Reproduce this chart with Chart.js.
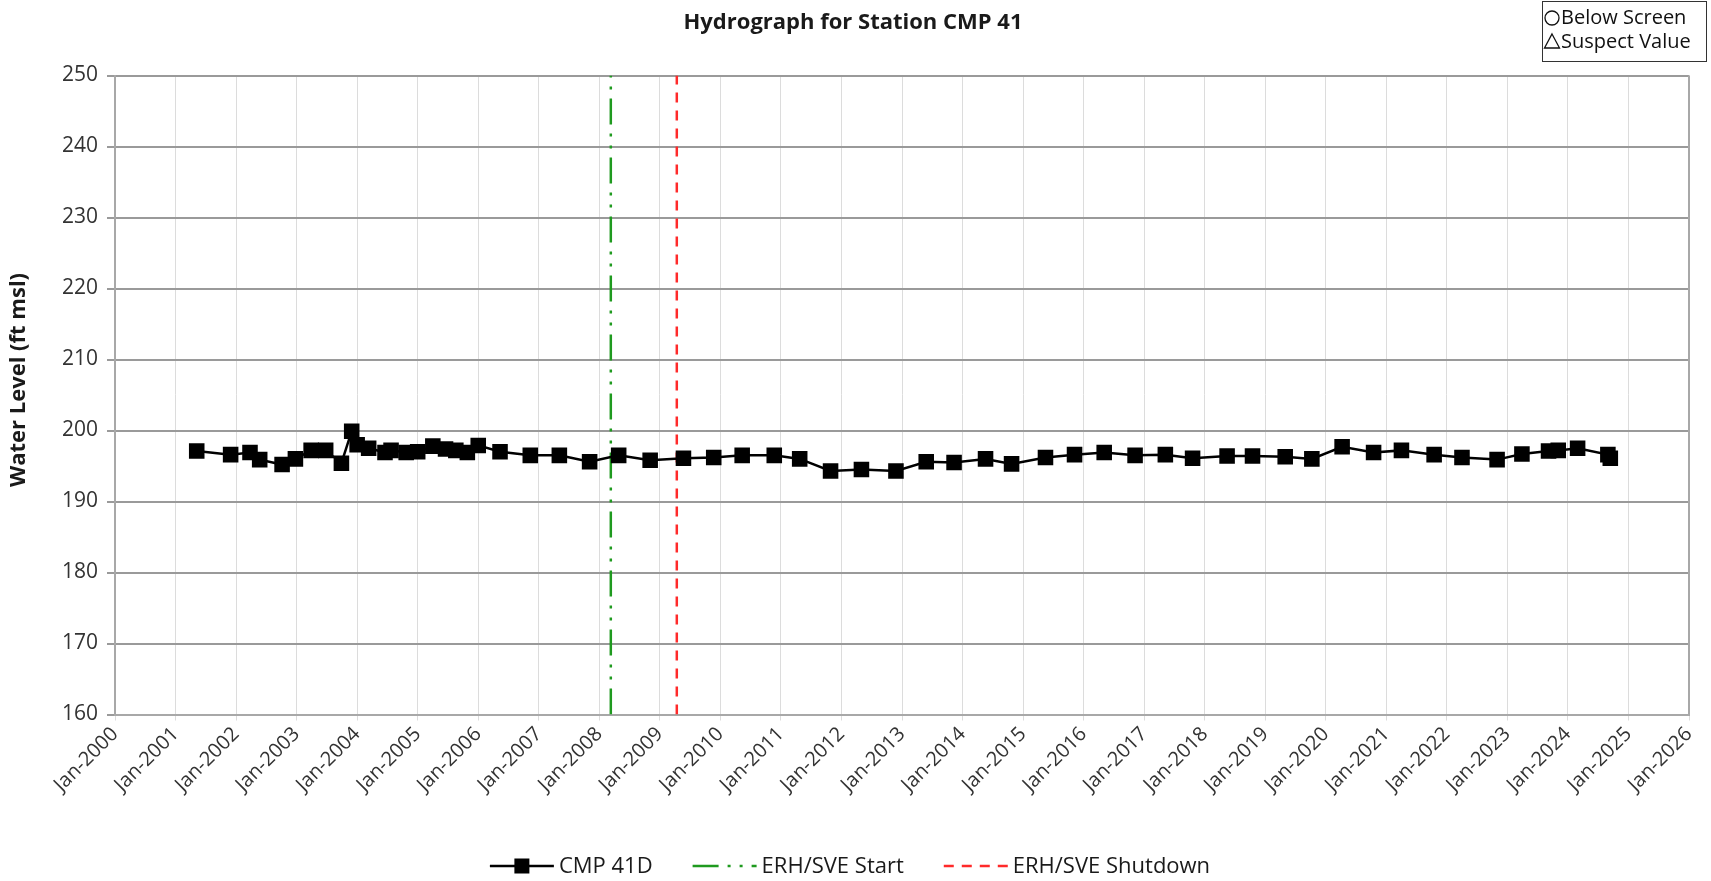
<!DOCTYPE html>
<html>
<head>
<meta charset="utf-8">
<title>Hydrograph for Station CMP 41</title>
<script src="https://cdn.jsdelivr.net/npm/chart.js@4.4.1/dist/chart.umd.min.js"></script>
<style>
  html, body { margin: 0; padding: 0; background: #fff; }
</style>
</head>
<body>
<canvas id="hydro" width="1711" height="881"></canvas>
<script>
// sampling dates as decimal years, water level in ft msl
const sampleYears = [
  2001.35, 2001.91, 2002.23, 2002.39, 2002.76, 2002.98, 2003.24, 2003.48, 2003.74, 2003.91,
  2004.00, 2004.19, 2004.46, 2004.56, 2004.81, 2005.00, 2005.25, 2005.46, 2005.63, 2005.82,
  2006.00, 2006.36, 2006.86, 2007.34, 2007.84, 2008.32, 2008.84, 2009.39, 2009.89, 2010.36,
  2010.89, 2011.31, 2011.82, 2012.33, 2012.90, 2013.40, 2013.86, 2014.38, 2014.81, 2015.37,
  2015.85, 2016.34, 2016.85, 2017.35, 2017.80, 2018.37, 2018.79, 2019.33, 2019.77, 2020.27,
  2020.79, 2021.25, 2021.79, 2022.25, 2022.83, 2023.24, 2023.68, 2023.84, 2024.16, 2024.66,
  2024.70
];
const waterLevels = [
  197.1, 196.6, 196.9, 195.9, 195.2, 196.0, 197.2, 197.2, 195.4, 199.9,
  198.0, 197.5, 196.9, 197.2, 196.9, 197.0, 197.8, 197.4, 197.2, 196.9,
  197.9, 197.0, 196.5, 196.5, 195.6, 196.5, 195.8, 196.1, 196.2, 196.5,
  196.5, 196.0, 194.3, 194.5, 194.3, 195.6, 195.5, 196.0, 195.3, 196.2,
  196.6, 196.9, 196.5, 196.6, 196.1, 196.4, 196.4, 196.3, 196.0, 197.7,
  196.9, 197.2, 196.6, 196.2, 195.9, 196.7, 197.1, 197.2, 197.5, 196.6,
  196.1
];

// remediation events
const erhStartYear = 2008.19;
const erhShutdownYear = 2009.28;

// axis ranges
const yearRange = [2000, 2026];
const levelRange = [160, 250];

const points = sampleYears.map((yr, i) => ({ x: yr, y: waterLevels[i] }));
const eventLine = yr => [{ x: yr, y: levelRange[0] }, { x: yr, y: levelRange[1] }];

Chart.defaults.font.family = '"Open Sans", sans-serif';
Chart.defaults.color = '#333';

// titles, marker key and line legend drawn straight on the canvas
const decorations = {
  id: 'decorations',
  afterDraw(chart) {
    const ctx = chart.ctx;
    const a = chart.chartArea;
    ctx.save();

    // right frame edge
    ctx.strokeStyle = '#a8a8a8';
    ctx.lineWidth = 2;
    ctx.beginPath();
    ctx.moveTo(a.right, a.top);
    ctx.lineTo(a.right, a.bottom);
    ctx.stroke();

    ctx.fillStyle = '#1a1a1a';
    ctx.textBaseline = 'middle';
    ctx.textAlign = 'center';
    ctx.font = 'bold 22px "Open Sans"';
    ctx.fillText('Hydrograph for Station CMP 41', 853, 23);

    ctx.save();
    ctx.translate(19, 380);
    ctx.rotate(-Math.PI / 2);
    ctx.font = 'bold 22px "Open Sans"';
    ctx.fillText('Water Level (ft msl)', 0, 0);
    ctx.restore();

    // marker key
    ctx.strokeStyle = '#333';
    ctx.lineWidth = 1;
    ctx.strokeRect(1542.5, 1.5, 164, 60);
    ctx.lineWidth = 1.3;
    ctx.strokeStyle = '#111';
    ctx.beginPath();
    ctx.arc(1552, 18, 7, 0, Math.PI * 2);
    ctx.stroke();
    ctx.beginPath();
    ctx.moveTo(1552, 34);
    ctx.lineTo(1559.5, 48);
    ctx.lineTo(1544.5, 48);
    ctx.closePath();
    ctx.stroke();
    ctx.textAlign = 'left';
    ctx.font = '20px "Open Sans"';
    ctx.fillStyle = '#111';
    ctx.fillText('Below Screen', 1561, 18);
    ctx.fillText('Suspect Value', 1561, 42);

    // line legend
    const ds = chart.data.datasets;
    const sw = 64, gap = 5, spacing = 40, ly = 866;
    ctx.font = '22px "Open Sans"';
    const widths = ds.map(d => sw + gap + ctx.measureText(d.label).width);
    const total = widths.reduce((s, w) => s + w, 0) + spacing * (ds.length - 1);
    let x = 850 - total / 2;
    ds.forEach((d, i) => {
      ctx.strokeStyle = d.borderColor;
      ctx.lineWidth = d.borderWidth;
      ctx.setLineDash(d.borderDash || []);
      ctx.beginPath();
      ctx.moveTo(x, ly);
      ctx.lineTo(x + sw, ly);
      ctx.stroke();
      ctx.setLineDash([]);
      if (d.pointRadius > 0) {
        ctx.fillStyle = d.pointBackgroundColor;
        ctx.fillRect(x + sw / 2 - 7.5, ly - 7.5, 15, 15);
      }
      ctx.fillStyle = '#1a1a1a';
      ctx.fillText(d.label, x + sw + gap, ly + 1);
      x += widths[i] + spacing;
    });

    ctx.restore();
  }
};

new Chart(document.getElementById('hydro'), {
  type: 'line',
  data: {
    datasets: [
      {
        label: 'CMP 41D',
        data: points,
        borderColor: '#000',
        borderWidth: 2.5,
        pointStyle: 'rect',
        pointRadius: 11,
        pointBackgroundColor: '#000',
        pointBorderColor: '#000',
        pointBorderWidth: 0,
        tension: 0
      },
      {
        label: 'ERH/SVE Start',
        data: eventLine(erhStartYear),
        borderColor: '#1f9a1f',
        borderWidth: 2.5,
        borderDash: [26, 9, 3, 9, 3, 9],
        pointRadius: 0
      },
      {
        label: 'ERH/SVE Shutdown',
        data: eventLine(erhShutdownYear),
        borderColor: '#ff2a2a',
        borderWidth: 2.5,
        borderDash: [10, 8],
        pointRadius: 0
      }
    ]
  },
  options: {
    responsive: false,
    animation: false,
    layout: { padding: { top: 75.5, right: 22, left: 0, bottom: 0 } },
    plugins: {
      legend: { display: false },
      title: { display: false },
      tooltip: { enabled: false }
    },
    scales: {
      x: {
        type: 'linear',
        min: yearRange[0],
        max: yearRange[1],
        afterFit: s => { s.height = 166.5; },
        ticks: {
          stepSize: 1,
          autoSkip: false,
          maxRotation: 45,
          minRotation: 45,
          padding: 2,
          font: { size: 20 },
          color: '#333',
          callback: v => 'Jan-' + v
        },
        grid: { color: '#dcdcdc', lineWidth: 1, tickLength: 6 },
        border: { color: '#a8a8a8', width: 2 }
      },
      y: {
        min: levelRange[0],
        max: levelRange[1],
        afterFit: s => { s.width = 115; },
        ticks: {
          stepSize: 10,
          padding: 9,
          font: { size: 21 },
          color: '#333'
        },
        grid: { color: '#9a9a9a', lineWidth: 2, tickLength: 8 },
        border: { color: '#a8a8a8', width: 2 }
      }
    }
  },
  plugins: [decorations]
});
</script>
</body>
</html>
